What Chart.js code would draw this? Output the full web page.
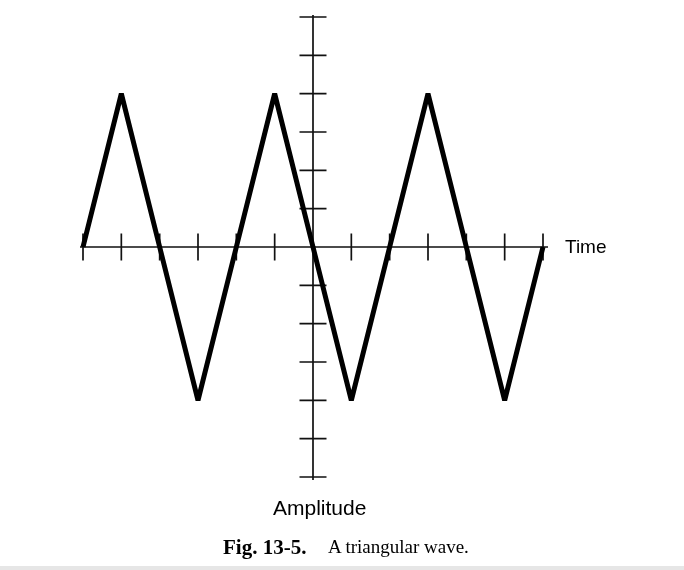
<!DOCTYPE html>
<html>
<head>
<meta charset="utf-8">
<script src="https://cdn.jsdelivr.net/npm/chart.js@4.4.1/dist/chart.umd.min.js"></script>
<style>
    body { margin: 0; background: #fff; }
    .page { position: relative; width: 684px; height: 570px; background: #fff; overflow: hidden; }
    #wave-chart { position: absolute; left: 0; top: 0; }
    .label { position: absolute; white-space: nowrap; color: #000; }
    .sans { font-family: "Liberation Sans", Arial, sans-serif; }
    .serif { font-family: "Liberation Serif", "Times New Roman", serif; line-height: 20px; }
    .bottom-bar { position: absolute; left: 0; top: 566px; width: 684px; height: 4px; background: #e6e6e6; }
</style>
</head>
<body>
<div class="page">
    <canvas id="wave-chart" width="684" height="570"></canvas>
    <div class="label sans" style="left:565px; top:237px; font-size:19px; line-height:19px;">Time</div>
    <div class="label sans" style="left:273px; top:497px; font-size:21px; line-height:21px;">Amplitude</div>
    <div class="label serif" style="left:223px; top:537px; font-size:21px; font-weight:bold;">Fig. 13-5.</div>
    <div class="label serif" style="left:328px; top:537px; font-size:19px;">A triangular wave.</div>
    <div class="bottom-bar"></div>
</div>
<script>
// wave vertices (time, amplitude)
const timeValues = [-6, -5, -4, -3, -2, -1, 0, 1, 2, 3, 4, 5, 6]
const amplitudeValues = [0, 4, 0, -4, 0, 4, 0, -4, 0, 4, 0, -4, 0]

// tick marks on the two crossing axes
const timeTicks = [-6, -5, -4, -3, -2, -1, 1, 2, 3, 4, 5, 6]
const amplitudeTicks = [-6, -5, -4, -3, -2, -1, 1, 2, 3, 4, 5, 6]

const wavePoints = []
for (let i = 0; i < timeValues.length; i++) {
    wavePoints.push({x: timeValues[i], y: amplitudeValues[i]})
}

const crossAxes = {
    id: 'crossAxes',
    beforeDatasetsDraw(chart) {
        const {ctx, scales: {x, y}} = chart;
        const x0 = x.getPixelForValue(0)
        const y0 = y.getPixelForValue(0)
        const tickHalf = 13.5

        ctx.save()
        ctx.strokeStyle = '#111'
        ctx.lineWidth = 1.7

        ctx.beginPath()
        ctx.moveTo(x.getPixelForValue(x.min) - 3, y0)
        ctx.lineTo(x.getPixelForValue(x.max) + 5, y0)
        ctx.moveTo(x0, y.getPixelForValue(y.max) - 2)
        ctx.lineTo(x0, y.getPixelForValue(y.min) + 3)

        timeTicks.forEach(t => {
            const px = x.getPixelForValue(t)
            ctx.moveTo(px, y0 - tickHalf)
            ctx.lineTo(px, y0 + tickHalf)
        })
        amplitudeTicks.forEach(a => {
            const py = y.getPixelForValue(a)
            ctx.moveTo(x0 - tickHalf, py)
            ctx.lineTo(x0 + tickHalf, py)
        })
        ctx.stroke()
        ctx.restore()
    }
}

const waveChart = new Chart(document.getElementById('wave-chart'), {
    type: 'line',
    data: {
        datasets: [{
            data: wavePoints,
            borderColor: '#000',
            borderWidth: 5,
            borderJoinStyle: 'bevel',
            pointRadius: 0,
            tension: 0,
            fill: false,
            clip: false
        }]
    },
    options: {
        responsive: false,
        animation: false,
        layout: {
            padding: {left: 83, right: 141, top: 17, bottom: 93}
        },
        plugins: {
            legend: {display: false},
            tooltip: {enabled: false}
        },
        scales: {
            x: {type: 'linear', min: -6, max: 6, display: false},
            y: {type: 'linear', min: -6, max: 6, display: false}
        }
    },
    plugins: [crossAxes]
})
</script>
</body>
</html>
